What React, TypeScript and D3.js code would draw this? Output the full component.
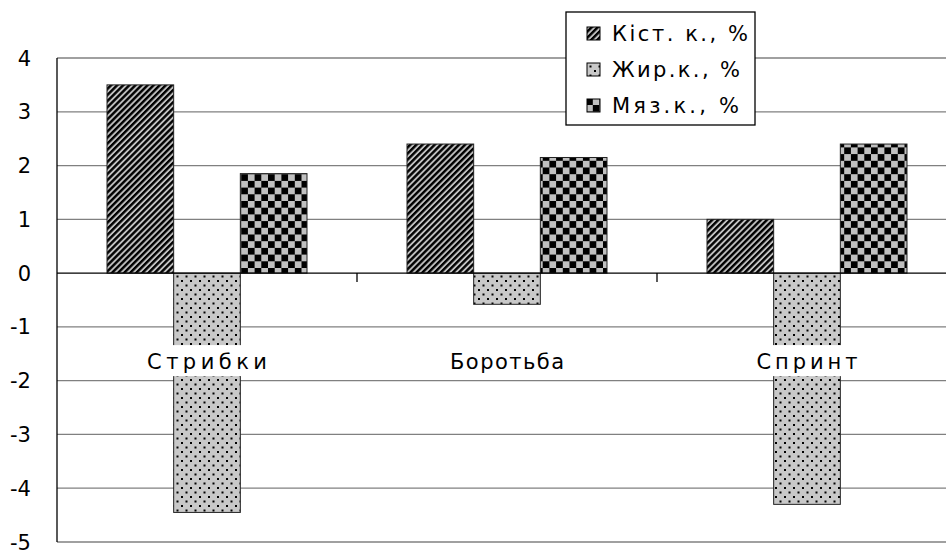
import * as d3 from 'd3';
import React, { useEffect, useRef } from 'react';

const categories = ['Стрибки', 'Боротьба', 'Спринт'];
const seriesNames = ['Кіст. к., %', 'Жир.к., %', 'Мяз.к., %'];
const kist = [3.5, 2.4, 1.0];
const zhyr = [-4.45, -0.58, -4.3];
const myaz = [1.85, 2.15, 2.4];
const yTicks = [4, 3, 2, 1, 0, -1, -2, -3, -4, -5];

const W = 946;
const H = 557;
const FONT = '"DejaVu Sans", Verdana, sans-serif';

const App: React.FC = () => {
    const svgRef = useRef<SVGSVGElement | null>(null);

    useEffect(() => {
        if (!svgRef.current) return;
        const svg = d3.select(svgRef.current);
        svg.selectAll('*').remove();

        const left = 57;
        const right = 957;
        const y = d3.scaleLinear().domain([-5, 4]).range([542, 58]);
        const x0 = d3.scaleBand().domain(categories).range([left, right]).paddingInner(0).paddingOuter(0);
        const x1 = d3
            .scaleBand()
            .domain(seriesNames)
            .range([0, x0.bandwidth()])
            .paddingOuter(0.75)
            .paddingInner(0);

        const defs = svg.append('defs');

        // diagonal stripes
        const p1 = defs
            .append('pattern')
            .attr('id', 'pat-kist')
            .attr('patternUnits', 'userSpaceOnUse')
            .attr('width', 4.3)
            .attr('height', 4.3)
            .attr('patternTransform', 'rotate(45)');
        p1.append('rect').attr('width', 4.3).attr('height', 4.3).attr('fill', '#c0c0c0');
        p1.append('rect').attr('width', 2.4).attr('height', 4.3).attr('fill', '#000');

        // dots
        const p2 = defs
            .append('pattern')
            .attr('id', 'pat-zhyr')
            .attr('patternUnits', 'userSpaceOnUse')
            .attr('width', 9)
            .attr('height', 9);
        p2.append('rect').attr('width', 9).attr('height', 9).attr('fill', '#c8c8c8');
        p2.append('rect').attr('x', 1).attr('y', 1).attr('width', 2).attr('height', 2).attr('fill', '#000');
        p2.append('rect').attr('x', 5.5).attr('y', 5.5).attr('width', 2).attr('height', 2).attr('fill', '#000');

        // checker
        const p3 = defs
            .append('pattern')
            .attr('id', 'pat-myaz')
            .attr('patternUnits', 'userSpaceOnUse')
            .attr('width', 13.4)
            .attr('height', 13.4);
        p3.append('rect').attr('width', 13.4).attr('height', 13.4).attr('fill', '#c0c0c0');
        p3.append('rect').attr('width', 6.7).attr('height', 6.7).attr('fill', '#000');
        p3.append('rect').attr('x', 6.7).attr('y', 6.7).attr('width', 6.7).attr('height', 6.7).attr('fill', '#000');

        const fills = ['url(#pat-kist)', 'url(#pat-zhyr)', 'url(#pat-myaz)'];
        const series = [kist, zhyr, myaz];

        // gridlines
        svg.append('g')
            .selectAll('line')
            .data(yTicks.filter((t) => t !== 0))
            .join('line')
            .attr('x1', left)
            .attr('x2', right)
            .attr('y1', (d) => y(d))
            .attr('y2', (d) => y(d))
            .attr('stroke', '#808080')
            .attr('stroke-width', 1.3);

        // y tick labels
        svg.append('g')
            .selectAll('text')
            .data(yTicks)
            .join('text')
            .attr('x', 31)
            .attr('y', (d) => y(d))
            .attr('dy', '0.36em')
            .attr('text-anchor', 'end')
            .attr('font-family', FONT)
            .attr('font-size', 21)
            .attr('fill', '#000')
            .text((d) => String(d));

        // bars
        series.forEach((vals, si) => {
            svg.append('g')
                .selectAll('rect')
                .data(vals)
                .join('rect')
                .attr('x', (_, i) => (x0(categories[i]) ?? 0) + (x1(seriesNames[si]) ?? 0))
                .attr('width', x1.bandwidth())
                .attr('y', (d) => y(Math.max(0, d)))
                .attr('height', (d) => Math.abs(y(d) - y(0)))
                .attr('fill', fills[si])
                .attr('stroke', '#222')
                .attr('stroke-width', 1);
        });

        // zero line and ticks
        svg.append('line')
            .attr('x1', left)
            .attr('x2', right)
            .attr('y1', y(0))
            .attr('y2', y(0))
            .attr('stroke', '#000')
            .attr('stroke-width', 1.3);
        svg.append('g')
            .selectAll('line')
            .data(categories.slice(1))
            .join('line')
            .attr('x1', (d) => x0(d) ?? 0)
            .attr('x2', (d) => x0(d) ?? 0)
            .attr('y1', y(0))
            .attr('y2', y(0) + 9)
            .attr('stroke', '#000')
            .attr('stroke-width', 1.3);

        // y axis line
        svg.append('line')
            .attr('x1', left)
            .attr('x2', left)
            .attr('y1', y(4))
            .attr('y2', y(-5))
            .attr('stroke', '#000')
            .attr('stroke-width', 1.3);

        // category labels with white boxes behind them
        const labelW = [120, 114, 101];
        const cg = svg
            .append('g')
            .selectAll('g')
            .data(categories)
            .join('g')
            .attr('transform', (d) => `translate(${(x0(d) ?? 0) + x0.bandwidth() / 2},${y(0) + 88})`);
        cg.append('rect')
            .attr('x', (_, i) => -labelW[i] / 2 - 4)
            .attr('y', -16)
            .attr('width', (_, i) => labelW[i] + 8)
            .attr('height', 31)
            .attr('fill', '#fff');
        cg.append('text')
            .attr('x', (_, i) => -labelW[i] / 2)
            .attr('y', 0)
            .attr('dy', '0.36em')
            .attr('textLength', (_, i) => labelW[i])
            .attr('lengthAdjust', 'spacing')
            .attr('font-family', FONT)
            .attr('font-size', 21)
            .attr('fill', '#000')
            .text((d) => d);

        // legend
        const legendW = [136, 128, 127];
        const lg = svg.append('g').attr('transform', 'translate(566,12)');
        lg.append('rect')
            .attr('width', 189)
            .attr('height', 113)
            .attr('fill', '#fff')
            .attr('stroke', '#000')
            .attr('stroke-width', 1.3);
        seriesNames.forEach((name, i) => {
            const row = lg.append('g').attr('transform', `translate(0,${21 + i * 36})`);
            row.append('rect')
                .attr('x', 21)
                .attr('y', -6)
                .attr('width', 13)
                .attr('height', 13)
                .attr('fill', fills[i])
                .attr('stroke', '#000')
                .attr('stroke-width', 1);
            row.append('text')
                .attr('x', 46)
                .attr('y', 0)
                .attr('dy', '0.36em')
                .attr('textLength', legendW[i])
                .attr('lengthAdjust', 'spacing')
                .attr('font-family', FONT)
                .attr('font-size', 21)
                .attr('fill', '#000')
                .text(name);
        });
    }, []);

    return (
        <svg
            ref={svgRef}
            width={W}
            height={H}
            style={{ position: 'absolute', left: 0, top: 0, background: '#fff' }}
        />
    );
};

export default App;
